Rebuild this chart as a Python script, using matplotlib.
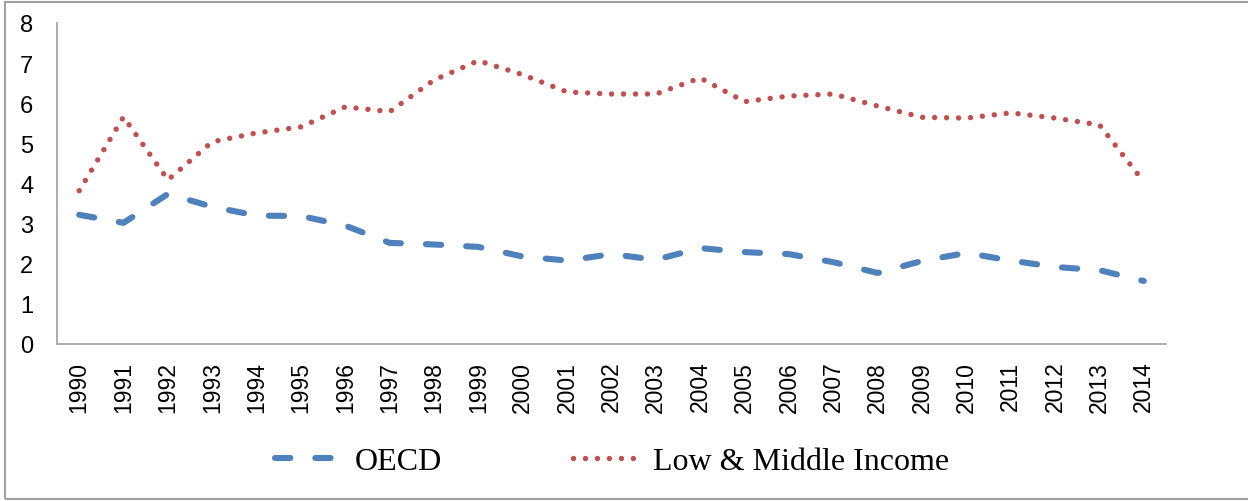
import numpy as np
import matplotlib
matplotlib.use('Agg')
import matplotlib.pyplot as plt
from matplotlib.patches import Rectangle

# Data
years = [str(y) for y in range(1990, 2015)]
oecd = [3.22, 3.02, 3.74, 3.42, 3.20, 3.19, 2.95, 2.52, 2.48, 2.42,
        2.18, 2.08, 2.24, 2.10, 2.39, 2.29, 2.24, 2.04, 1.77, 2.07,
        2.27, 2.08, 1.92, 1.84, 1.57]
low_mid = [3.82, 5.66, 4.09, 5.04, 5.26, 5.41, 5.91, 5.79, 6.58, 7.06,
           6.71, 6.28, 6.23, 6.23, 6.63, 6.04, 6.18, 6.23, 5.93, 5.65,
           5.63, 5.76, 5.63, 5.46, 4.04]

W, H = 1248, 502
fig = plt.figure(figsize=(W / 100, H / 100), dpi=100)
ax = fig.add_axes([57 / W, 1 - 345 / H, (1166 - 57) / W, (345 - 24) / H])

x = np.arange(len(years))
ax.plot(x, oecd, color='#4F81BD', linewidth=4.4, dashes=(2.5, 4.1),
        dash_capstyle='round', solid_capstyle='round', label='OECD')
ax.plot(x, low_mid, color='#C0504D', linewidth=3.9, dashes=(0.01, 2.2),
        dash_capstyle='round', label='Low & Middle Income')

ax.set_xlim(-0.5, len(years) - 0.5)
ax.set_ylim(0, 8)
ax.set_yticks(range(0, 9))
ax.set_xticks(x)
ax.set_xticklabels(years, rotation=90, fontfamily='Liberation Sans', fontsize=16.5)
for lab in ax.get_yticklabels():
    lab.set_fontfamily('Liberation Sans')
    lab.set_fontsize(17)
ax.tick_params(axis='both', length=0)
ax.tick_params(axis='y', pad=17)
ax.tick_params(axis='x', pad=12)

for side in ['top', 'right']:
    ax.spines[side].set_visible(False)
for side in ['left', 'bottom']:
    ax.spines[side].set_color('#A6A6A6')
    ax.spines[side].set_linewidth(1.3)

fig.legend(loc='center', bbox_to_anchor=(612 / W, 1 - 462 / H), ncol=2,
           frameon=False, prop={'family': 'Liberation Serif', 'size': 23},
           handlelength=2.1, handletextpad=0.4, columnspacing=4.1)

# outer chart border
fig.patches.append(Rectangle((5 / W, 0.003), 1.0, 1 - 3 / H - 0.003,
                             transform=fig.transFigure, fill=False,
                             edgecolor='#A0A0A0', linewidth=1.5))

fig.savefig('out.png', dpi=100)
